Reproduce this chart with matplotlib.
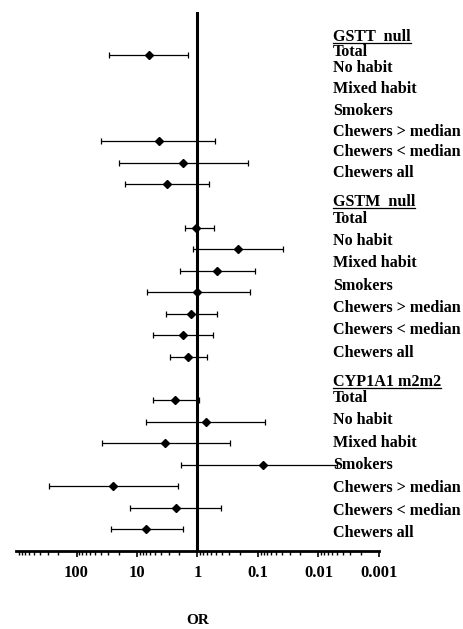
import numpy as np
import matplotlib
matplotlib.use("Agg")
import matplotlib.pyplot as plt
from matplotlib.lines import Line2D

plt.rcParams['font.family'] = ['Liberation Serif', 'DejaVu Serif']
plt.rcParams['font.weight'] = 'bold'

# ---- data ----
groups = ["GSTT  null", "GSTM  null", "CYP1A1 m2m2"]
subgroups = ["Total", "No habit", "Mixed habit", "Smokers",
             "Chewers > median", "Chewers < median", "Chewers all"]
nan = np.nan
gstt_or = [6.4, nan, nan, nan, 4.4, 1.73, 3.2]
gstt_hi = [29, nan, nan, nan, 39, 20, 15.7]
gstt_lo = [1.43, nan, nan, nan, 0.51, 0.145, 0.65]

gstm_or = [1.07, 0.218, 0.47, 1.0, 1.27, 1.75, 1.46]
gstm_hi = [1.62, 1.2, 1.91, 6.9, 3.3, 5.4, 2.8]
gstm_lo = [0.53, 0.039, 0.114, 0.135, 0.48, 0.56, 0.70]

cyp_or = [2.34, 0.73, 3.4, 0.082, 25, 2.25, 7.05]
cyp_hi = [5.5, 7.0, 38.6, 1.89, 287, 13.3, 27]
cyp_lo = [0.95, 0.076, 0.285, 0.0049, 2.14, 0.41, 1.75]

tick_values = [100, 10, 1, 0.1, 0.01, 0.001]
tick_labels = ["100", "10", "1", "0.1", "0.01", "0.001"]

# label vertical positions (layout, in row units)
header_pos = [-0.85, 6.79, 15.16]
label_pos = [
    [-0.14, 0.60, 1.58, 2.60, 3.58, 4.51, 5.49],
    [7.60, 8.60, 9.63, 10.70, 11.72, 12.74, 13.80],
    [15.89, 16.94, 18.0, 19.02, 20.08, 21.13, 22.17],
]

fig = plt.figure(figsize=(4.64, 6.29), dpi=100)
ax = fig.add_axes([16/464, 1-551/629, (379-16)/464, (551-12)/629])

series = [(gstt_or, gstt_lo, gstt_hi), (gstm_or, gstm_lo, gstm_hi), (cyp_or, cyp_lo, cyp_hi)]
for gi, (o, lo, hi) in enumerate(series):
    o = np.array(o, float); lo = np.array(lo, float); hi = np.array(hi, float)
    rows = np.arange(len(o)) + gi * 8
    m = ~np.isnan(o)
    ax.errorbar(o[m], rows[m], xerr=[o[m]-lo[m], hi[m]-o[m]], fmt='D', color='black',
                ms=4.5, elinewidth=0.9, capsize=2.3, capthick=0.9, zorder=3)

ax.axvline(1, color='black', lw=2.2, zorder=2)

ax.set_xscale('log')
ax.set_xlim(1000, 0.001)
ax.set_ylim(23, -2)
ax.set_yticks([])
for s in ['left', 'right', 'top']:
    ax.spines[s].set_visible(False)
ax.spines['bottom'].set_linewidth(2.0)
ax.set_xticks(tick_values)
ax.set_xticklabels(tick_labels, fontsize=12, fontweight='bold')
ax.tick_params(axis='x', which='major', length=4, width=1.2, pad=6)
ax.tick_params(axis='x', which='minor', length=3, width=1.0)
ax.set_xlabel('OR', fontsize=11, fontweight='bold', labelpad=24)

ytr = ax.get_yaxis_transform()
headers = []
for gi, g in enumerate(groups):
    t = ax.text(0.873, header_pos[gi], g, transform=ytr, ha='left', va='center',
                fontsize=11.6, fontweight='bold', zorder=5)
    headers.append(t)
    for si, sname in enumerate(subgroups):
        ax.text(0.873, label_pos[gi][si], sname, transform=ytr, ha='left', va='center',
                fontsize=11.6, fontweight='bold', zorder=5)

fig.canvas.draw()
r = fig.canvas.get_renderer()
inv = fig.transFigure.inverted()
for t in headers:
    bb = t.get_window_extent(r)
    (x0, y0), (x1, _) = inv.transform([(bb.x0, bb.y0 + 1.5), (bb.x1, bb.y0)])
    fig.add_artist(Line2D([x0, x1], [y0, y0], transform=fig.transFigure, color='black', lw=0.9))

fig.savefig('out.png', dpi=100)
